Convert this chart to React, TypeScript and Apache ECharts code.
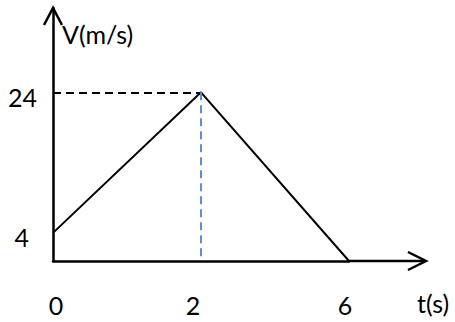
import React, { useEffect, useRef } from "react";
import * as echarts from "echarts";

const categories = ["0", "2", "6"];
const velocity = [4, 24, 0];
const yTickLabels = ["4", "24"];
const xName = "t(s)";
const yName = "V(m/s)";

const FONT = "Lato";

export default function App() {
  const ref = useRef<HTMLDivElement>(null);
  useEffect(() => {
    if (!ref.current) return;
    const chart = echarts.init(ref.current, undefined, { renderer: "svg" });
    chart.setOption({
      animation: false,
      backgroundColor: "#ffffff",
      grid: { left: 53, top: 8, right: 106, bottom: 61, containLabel: false },
      xAxis: {
        type: "category",
        data: categories,
        boundaryGap: false,
        axisLine: { lineStyle: { color: "#000", width: 2.5 } },
        axisTick: { show: false },
        splitLine: { show: false },
        axisLabel: {
          margin: 31,
          color: "#000",
          fontFamily: FONT,
          fontSize: 25,
          formatter: (v: string) => {
            if (v === "0") return "{a|0}";
            if (v === "2") return "{b|2}";
            if (v === "6") return "{c|6}";
            return "";
          },
          rich: {
            a: { fontFamily: FONT, fontSize: 25, color: "#000", padding: [0, 0, 0, 6] },
            b: { fontFamily: FONT, fontSize: 25, color: "#000", padding: [0, 16, 0, 0] },
            c: { fontFamily: FONT, fontSize: 25, color: "#000", padding: [0, 8, 0, 0] },
          },
        },
      },
      yAxis: {
        type: "value",
        min: 0,
        max: 36,
        interval: 4,
        axisLine: { show: true, lineStyle: { color: "#000", width: 2.5 } },
        axisTick: { show: false },
        splitLine: { show: false },
        axisLabel: {
          margin: 16,
          color: "#000",
          fontFamily: FONT,
          fontSize: 25,
          formatter: (v: number) => {
            const s = String(v);
            if (!yTickLabels.includes(s)) return "";
            return s === "4" ? "{f|4}" : "{t|24}";
          },
          rich: {
            f: { fontFamily: FONT, fontSize: 25, color: "#000", padding: [8, 8, 0, 0] },
            t: { fontFamily: FONT, fontSize: 25, color: "#000", padding: [10, 0, 0, 0] },
          },
        },
      },
      series: [
        {
          type: "line",
          data: velocity,
          symbol: "none",
          lineStyle: { color: "#000", width: 2 },
          markLine: {
            silent: true,
            symbol: "none",
            label: { show: false },
            data: [
              [
                { coord: [categories[0], velocity[1]], lineStyle: { color: "#000", type: [8, 5], width: 2 } },
                { coord: [categories[1], velocity[1]] },
              ],
              [
                { coord: [categories[1], velocity[1]], lineStyle: { color: "#5b8fd3", type: [8, 5], width: 2 } },
                { coord: [categories[1], 0] },
              ],
            ],
          },
        },
      ],
      graphic: [
        {
          type: "line",
          shape: { x1: 348, y1: 261, x2: 425, y2: 261 },
          style: { stroke: "#000", lineWidth: 2.5 },
        },
        {
          type: "polyline",
          shape: { points: [[44, 25], [53, 8], [62, 25]] },
          style: { stroke: "#000", lineWidth: 2.5, fill: null },
        },
        {
          type: "polyline",
          shape: { points: [[408, 252], [426, 261], [408, 270]] },
          style: { stroke: "#000", lineWidth: 2.5, fill: null },
        },
        {
          type: "text",
          x: 62,
          y: 34,
          style: { text: yName, fontFamily: FONT, fontSize: 25, fill: "#000", verticalAlign: "middle" },
        },
        {
          type: "text",
          x: 417,
          y: 303,
          style: { text: xName, fontFamily: FONT, fontSize: 25, fill: "#000", verticalAlign: "middle" },
        },
      ],
    });
    return () => chart.dispose();
  }, []);
  return (
    <div
      ref={ref}
      style={{ position: "fixed", left: 0, top: 0, width: 455, height: 322, background: "#fff" }}
    />
  );
}
